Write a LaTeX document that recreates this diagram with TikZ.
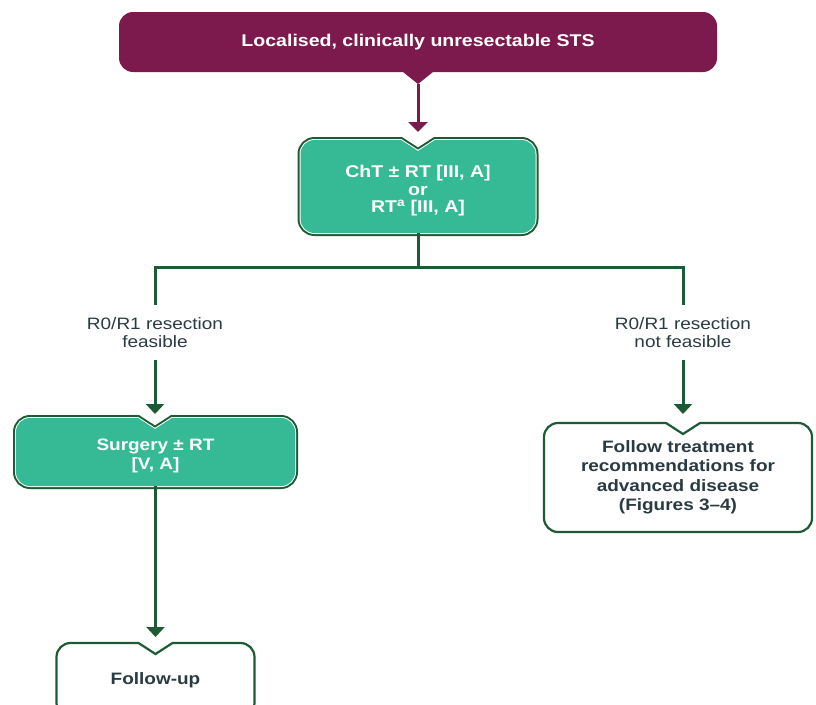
\documentclass[tikz,border=0pt]{standalone}
\usepackage{fontspec}
\setmainfont[FakeStretch=1.15]{Liberation Sans}
\usetikzlibrary{arrows.meta}

\definecolor{plum}{HTML}{7D1A4D}
\definecolor{jade}{HTML}{36BA95}
\definecolor{forest}{HTML}{1E5B34}
\definecolor{ink}{HTML}{2A3A42}

\tikzset{
  holder/.style={draw=none, inner sep=0pt, outer sep=0pt},
  whitetext/.style={font=\bfseries\fontsize{16.5}{19}\selectfont, text=white, align=center, inner sep=0pt},
  darktext/.style={font=\bfseries\fontsize{16.5}{19.5}\selectfont, text=ink, align=center, inner sep=0pt},
  branchlabel/.style={font=\fontsize{16.5}{18}\selectfont, text=ink, align=center, inner sep=0pt, minimum height=55pt},
  gline/.style={draw=forest, line width=3pt},
  garrow/.style={gline, -{Triangle[width=18pt,length=10pt]}},
  parrow/.style={draw=plum, line width=3pt, -{Triangle[width=19pt,length=10pt]}},
}

% Corner radius and the matching Bezier handle length
\def\rad{14pt}
\def\hnd{6.3pt}

% Rounded box whose top edge dips into a small V under the incoming arrow.
% #1 path options, #2 box node, #3 node that fixes the x of the V
\newcommand\notchedpath[3]{%
  \coordinate (#2-notch) at (#2.north -| #3);
  \path[#1]
     ([yshift=-\rad]#2.north west) .. controls ([yshift=-\hnd]#2.north west) and ([xshift=\hnd]#2.north west) .. ([xshift=\rad]#2.north west)
     -- ([xshift=-17pt]#2-notch) -- ([yshift=-11pt]#2-notch) -- ([xshift=17pt]#2-notch)
     -- ([xshift=-\rad]#2.north east) .. controls ([xshift=-\hnd]#2.north east) and ([yshift=-\hnd]#2.north east) .. ([yshift=-\rad]#2.north east)
     -- ([yshift=\rad]#2.south east) .. controls ([yshift=\hnd]#2.south east) and ([xshift=-\hnd]#2.south east) .. ([xshift=-\rad]#2.south east)
     -- ([xshift=\rad]#2.south west) .. controls ([xshift=\hnd]#2.south west) and ([yshift=\hnd]#2.south west) .. ([yshift=\rad]#2.south west)
     -- cycle;
}
% Filled green box: dark rim, thin white inner rim, green face
\newcommand\jadebox[2]{%
  \notchedpath{draw=forest, line width=6pt}{#1}{#2}
  \notchedpath{draw=white, line width=2pt}{#1}{#2}
  \notchedpath{fill=jade}{#1}{#2}
}
% Open box with a dark green outline
\newcommand\openbox[2]{%
  \notchedpath{draw=forest, line width=2.2pt, fill=white}{#1}{#2}
}

\begin{document}
\begin{tikzpicture}[x=1pt, y=-1pt]
\useasboundingbox (0,0) rectangle (816,704);
\clip (0,0) rectangle (816,704);

% box frames
\node[holder, minimum width=598pt, minimum height=60pt] (top) at (418,42) {};
\node[holder, minimum width=235pt, minimum height=93pt] (cht) at (418,186.5) {};
\node[branchlabel] (lblL) at (155,332.5) {R0/R1 resection\\feasible};
\node[branchlabel] (lblR) at (683,332.5) {R0/R1 resection\\not feasible};
\node[holder, minimum width=279pt, minimum height=68pt] (surg) at (155.5,452) {};
\node[holder, minimum width=268pt, minimum height=109pt] (ft) at (678,477.5) {};
\node[holder, minimum width=198pt, minimum height=74pt] (fu) at (155.5,680) {};

% headline box with a V on its lower edge
\path[fill=plum]
   ([yshift=-\rad]top.north west) .. controls ([yshift=-\hnd]top.north west) and ([xshift=\hnd]top.north west) .. ([xshift=\rad]top.north west)
   -- ([xshift=-\rad]top.north east) .. controls ([xshift=-\hnd]top.north east) and ([yshift=-\hnd]top.north east) .. ([yshift=-\rad]top.north east)
   -- ([yshift=\rad]top.south east) .. controls ([yshift=\hnd]top.south east) and ([xshift=-\hnd]top.south east) .. ([xshift=-\rad]top.south east)
   -- ([xshift=15pt]top.south) -- ([yshift=-12pt]top.south) -- ([xshift=-15pt]top.south)
   -- ([xshift=\rad]top.south west) .. controls ([xshift=\hnd]top.south west) and ([yshift=\hnd]top.south west) .. ([yshift=\rad]top.south west)
   -- cycle;

\jadebox{cht}{cht}
\jadebox{surg}{lblL}
\openbox{ft}{lblR}
\openbox{fu}{surg}

% box texts
\node[whitetext, font=\bfseries\fontsize{17}{19}\selectfont] (toptext) at (top.center) {Localised, clinically unresectable STS};
\node[whitetext, font=\bfseries\fontsize{17}{17.5}\selectfont] (chttext) at ([yshift=-4.5pt]cht.center) {ChT ± RT [III, A]\\or\\RT\textsuperscript{a} [III, A]};
\node[whitetext] (surgtext) at ([yshift=-4pt]surg.center) {Surgery ± RT\\{[V, A]}};
\node[darktext] (fttext) at (ft.center) {Follow treatment\\recommendations for\\advanced disease\\(Figures 3–4)};
\node[darktext] (futext) at (fu.center) {Follow-up};

% connectors
\draw[parrow] ([yshift=-12pt]top.south) -- ([yshift=8pt]cht.north);
\coordinate (fork) at (418,267);
\draw[gline] (cht.south) -- (fork);
\draw[gline] (lblL.north) |- (fork) -| (lblR.north);
\draw[garrow] (lblL.south) -- ([yshift=4pt]surg-notch);
\draw[garrow] (lblR.south) -- ([yshift=9pt]ft-notch);
\draw[garrow] (surg.south) -- ([yshift=6pt]fu-notch);
\end{tikzpicture}
\end{document}
